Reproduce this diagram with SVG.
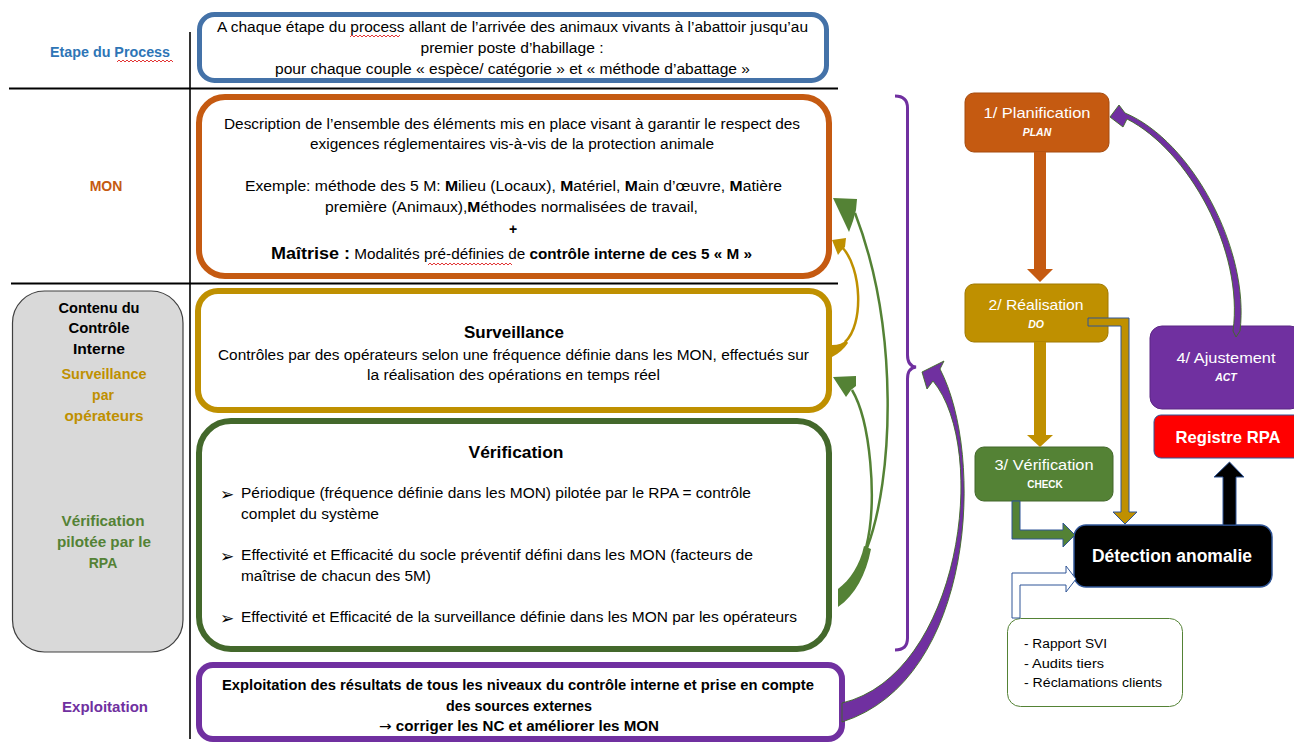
<svg xmlns="http://www.w3.org/2000/svg" width="1294" height="744" viewBox="0 0 1294 744">
<style>
text{font-family:"Liberation Sans",Arial,sans-serif;font-size:14px;fill:#000}
.c{text-anchor:middle}
.b{font-weight:bold}
.lbl{font-weight:bold;font-size:14px;text-anchor:middle}
.ttl{font-weight:bold;font-size:16.5px;text-anchor:middle}
.w{fill:#fff}
.bul{font-family:"DejaVu Sans",sans-serif;font-size:17px}
.sq{fill:none;stroke:#e02020;stroke-width:0.9}
</style>
<rect width="1294" height="744" fill="#fff"/>

<g id="grid">
<line x1="190" y1="32" x2="190" y2="739" stroke="#000" stroke-width="1.6"/>
<line x1="9" y1="88.5" x2="838" y2="88.5" stroke="#000" stroke-width="2.2"/>
<line x1="11" y1="283.5" x2="838" y2="283.5" stroke="#000" stroke-width="2.2"/>
</g>

<g id="labels">
<text class="lbl" x="110" y="57" style="fill:#2E75B6" textLength="120" lengthAdjust="spacingAndGlyphs">Etape du Process</text>
<polyline class="sq" points="117,62 119,60 121,62 123,60 125,62 127,60 129,62 131,60 133,62 135,60 137,62 139,60 141,62 143,60 145,62 147,60 149,62 151,60 153,62 155,60 157,62 159,60 161,62 163,60 165,62 167,60 169,62 171,60 173,62"/>
<text class="lbl" x="106" y="191" style="fill:#C55A11">MON</text>
<text class="lbl" x="105" y="712" style="fill:#7030A0" textLength="86" lengthAdjust="spacingAndGlyphs">Exploitation</text>
</g>

<g id="contenu">
<rect x="12.5" y="291" width="170.5" height="361" rx="32" fill="#D9D9D9" stroke="#404040" stroke-width="1.2"/>
<text class="lbl" x="99" y="313" textLength="81" lengthAdjust="spacingAndGlyphs">Contenu du</text>
<text class="lbl" x="99" y="333" textLength="61" lengthAdjust="spacingAndGlyphs">Contrôle</text>
<text class="lbl" x="99" y="354" textLength="52" lengthAdjust="spacingAndGlyphs">Interne</text>
<text class="lbl" x="104" y="379" style="fill:#BF9000" textLength="85" lengthAdjust="spacingAndGlyphs">Surveillance</text>
<text class="lbl" x="103" y="400" style="fill:#BF9000">par</text>
<text class="lbl" x="104" y="421" style="fill:#BF9000" textLength="79" lengthAdjust="spacingAndGlyphs">opérateurs</text>
<text class="lbl" x="103" y="526" style="fill:#548235" textLength="83" lengthAdjust="spacingAndGlyphs">Vérification</text>
<text class="lbl" x="104" y="547" style="fill:#548235" textLength="94" lengthAdjust="spacingAndGlyphs">pilotée par le</text>
<text class="lbl" x="103" y="568" style="fill:#548235">RPA</text>
</g>

<g id="etape">
<rect x="199.5" y="14.5" width="627" height="66" rx="15" fill="#fff" stroke="#4472A8" stroke-width="5"/>
<text class="c" x="512.5" y="32" textLength="591" lengthAdjust="spacingAndGlyphs">A chaque étape du process allant de l’arrivée des animaux vivants à l’abattoir jusqu’au</text>
<polyline class="sq" points="350,37 352,35 354,37 356,35 358,37 360,35 362,37 364,35 366,37 368,35 370,37 372,35 374,37 376,35 378,37 380,35 382,37 384,35 386,37 388,35 390,37 392,35 394,37 396,35 398,37 400,35"/>
<text class="c" x="512" y="53" textLength="183" lengthAdjust="spacingAndGlyphs">premier poste d’habillage :</text>
<text class="c" x="512.5" y="74" textLength="475" lengthAdjust="spacingAndGlyphs">pour chaque couple « espèce/ catégorie » et « méthode d’abattage »</text>
</g>

<g id="mon">
<rect x="199" y="97" width="630" height="179" rx="26" fill="#fff" stroke="#C55A11" stroke-width="6"/>
<text class="c" x="512" y="129" textLength="576" lengthAdjust="spacingAndGlyphs">Description de l’ensemble des éléments mis en place visant à garantir le respect des</text>
<text class="c" x="512" y="149" textLength="404" lengthAdjust="spacingAndGlyphs">exigences réglementaires vis-à-vis de la protection animale</text>
<text class="c" x="513.5" y="191" textLength="537" lengthAdjust="spacingAndGlyphs">Exemple: méthode des 5 M: <tspan class="b">M</tspan>ilieu (Locaux), <tspan class="b">M</tspan>atériel, <tspan class="b">M</tspan>ain d’œuvre, <tspan class="b">M</tspan>atière</text>
<text class="c" x="511.5" y="212" textLength="373" lengthAdjust="spacingAndGlyphs">première (Animaux),<tspan class="b">M</tspan>éthodes normalisées de travail,</text>
<text class="c b" x="513" y="234">+</text>
<text class="c" x="511.5" y="259" textLength="481" lengthAdjust="spacingAndGlyphs"><tspan class="b" style="font-size:16.5px">Maîtrise :</tspan> Modalités pré-définies de <tspan class="b">contrôle interne de ces 5 « M »</tspan></text>
<polyline class="sq" points="428,265 430,263 432,265 434,263 436,265 438,263 440,265 442,263 444,265 446,263 448,265 450,263 452,265 454,263 456,265 458,263 460,265 462,263 464,265 466,263 468,265 470,263 472,265 474,263 476,265 478,263 480,265 482,263 484,265 486,263 488,265 490,263 492,265 494,263 496,265 498,263 500,265 502,263 504,265 506,263 508,265 510,263 512,265"/>
</g>

<g id="surveillance">
<rect x="198" y="291" width="631" height="119" rx="20" fill="#fff" stroke="#BF9000" stroke-width="6"/>
<text class="ttl" x="514" y="338" textLength="100" lengthAdjust="spacingAndGlyphs">Surveillance</text>
<text class="c" x="513.5" y="360" textLength="591" lengthAdjust="spacingAndGlyphs">Contrôles par des opérateurs selon une fréquence définie dans les MON, effectués sur</text>
<text class="c" x="513.5" y="380" textLength="293" lengthAdjust="spacingAndGlyphs">la réalisation des opérations en temps réel</text>
</g>

<g id="verification">
<rect x="199" y="421" width="630" height="228" rx="32" fill="#fff" stroke="#43682B" stroke-width="6"/>
<text class="ttl" x="516" y="458" textLength="95" lengthAdjust="spacingAndGlyphs">Vérification</text>
<text class="bul" x="220" y="500">➢</text>
<text x="241" y="498" textLength="510" lengthAdjust="spacingAndGlyphs">Périodique (fréquence définie dans les MON) pilotée par le RPA = contrôle</text>
<text x="241" y="519" textLength="138" lengthAdjust="spacingAndGlyphs">complet du système</text>
<text class="bul" x="220" y="562">➢</text>
<text x="241" y="560" textLength="512" lengthAdjust="spacingAndGlyphs">Effectivité et Efficacité du socle préventif  défini dans les MON (facteurs de</text>
<text x="241" y="581" textLength="190" lengthAdjust="spacingAndGlyphs">maîtrise de chacun des 5M)</text>
<text class="bul" x="220" y="624">➢</text>
<text x="241" y="622" textLength="556" lengthAdjust="spacingAndGlyphs">Effectivité et Efficacité de la surveillance définie dans les MON par les opérateurs</text>
</g>

<g id="exploitation">
<rect x="199" y="665" width="643" height="74" rx="14" fill="#fff" stroke="#7030A0" stroke-width="6"/>
<text class="c b" x="518" y="690" textLength="592" lengthAdjust="spacingAndGlyphs">Exploitation des résultats de tous les niveaux du contrôle interne et prise en compte</text>
<text class="c b" x="519" y="711" textLength="146" lengthAdjust="spacingAndGlyphs">des sources externes</text>
<text class="c b" x="519" y="731" textLength="280" lengthAdjust="spacingAndGlyphs"><tspan style="font-family:'DejaVu Sans',sans-serif;font-weight:normal">→</tspan> corriger les NC et  améliorer les MON</text>
</g>

<g id="brace">
<path d="M895,96 Q907.5,96 907.5,108 L907.5,355 Q907.5,366 916,367 Q907.5,368 907.5,379 L907.5,638 Q907.5,650 895,650" fill="none" stroke="#7030A0" stroke-width="3"/>
</g>

<g id="plan">
<rect x="965" y="93" width="144" height="59" rx="9" fill="#C55A11" stroke="#A54B0E"/>
<text class="c w" x="1037" y="118" style="font-size:15px" textLength="107" lengthAdjust="spacingAndGlyphs">1/ Planification</text>
<text class="c w b" x="1037" y="136" style="font-size:10.5px;font-style:italic">PLAN</text>
</g>
<g id="do">
<rect x="965" y="284" width="143" height="58" rx="9" fill="#BF9000" stroke="#A07900"/>
<text class="c w" x="1036" y="310" style="font-size:15px" textLength="95" lengthAdjust="spacingAndGlyphs">2/ Réalisation</text>
<text class="c w b" x="1036" y="328" style="font-size:10.5px;font-style:italic">DO</text>
</g>
<g id="check">
<rect x="975" y="447" width="138" height="54" rx="9" fill="#548235" stroke="#42672A"/>
<text class="c w" x="1044" y="470" style="font-size:15px" textLength="99" lengthAdjust="spacingAndGlyphs">3/ Vérification</text>
<text class="c w b" x="1045" y="488" style="font-size:10px">CHECK</text>
</g>
<g id="act">
<rect x="1150" y="326" width="152" height="83" rx="12" fill="#7030A0" stroke="#5B2784"/>
<text class="c w" x="1226" y="363" style="font-size:15px" textLength="99" lengthAdjust="spacingAndGlyphs">4/ Ajustement</text>
<text class="c w b" x="1226" y="381" style="font-size:10.5px;font-style:italic">ACT</text>
</g>
<g id="registre">
<rect x="1154" y="415" width="150" height="43" rx="7" fill="#FF0000" stroke="#2F5597"/>
<text class="c w b" x="1228" y="443" style="font-size:17px" textLength="105" lengthAdjust="spacingAndGlyphs">Registre RPA</text>
</g>
<g id="detection">
<rect x="1074" y="525" width="198" height="62" rx="12" fill="#000" stroke="#2F5597" stroke-width="1.5"/>
<text class="c w b" x="1172" y="562" style="font-size:18px" textLength="160" lengthAdjust="spacingAndGlyphs">Détection anomalie</text>
</g>
<g id="sources">
<rect x="1007.5" y="618.5" width="175" height="88" rx="13" fill="#fff" stroke="#548235"/>
<text x="1024" y="648" style="font-size:12.5px" textLength="83" lengthAdjust="spacingAndGlyphs">- Rapport SVI</text>
<text x="1024" y="668" style="font-size:12.5px" textLength="80" lengthAdjust="spacingAndGlyphs">- Audits tiers</text>
<text x="1024" y="687" style="font-size:12.5px" textLength="138" lengthAdjust="spacingAndGlyphs">- Réclamations clients</text>
</g>

<g id="connectors">
<polygon points="1034,152 1046,152 1046,269 1053,269 1040,282 1027,269 1034,269" fill="#C55A11"/>
<polygon points="1034,342 1046,342 1046,435 1053,435 1040,447 1027,435 1034,435" fill="#BF9000"/>
<polygon points="1088,318 1129,318 1129,512 1137,512 1125,524 1113,512 1121,512 1121,326 1088,326" fill="#BF9000" stroke="#2F5597" stroke-width="1"/>
<polygon points="1012,501 1020,501 1020,530 1063,530 1063,523 1075,535 1063,547 1063,539 1012,539" fill="#548235" stroke="#2F5597" stroke-width="1"/>
<polygon points="1012,618 1012,573 1066,573 1066,566 1076,579 1066,592 1066,585 1020,585 1020,618" fill="#fff" stroke="#2F5597" stroke-width="1"/>
<polygon points="1223,525 1236,525 1236,477 1244,477 1229.5,462 1214,477 1223,477" fill="#000" stroke="#2F5597" stroke-width="1"/>
<path d="M1233,331 C1244,250 1188,150 1127,119 L1123,127 L1110,117 L1119,105 L1125,113 C1192,141 1250,250 1240,331 L1236,337 Z" fill="#7030A0" stroke="#3E6B26" stroke-width="0.9"/>
<path d="M842,703 C960,675 990,450 933,381 L927,389 L922,372 L944,361 L940,369 C985,455 975,680 842,722 Z" fill="#7030A0" stroke="#3E6B26" stroke-width="0.9"/>
<path d="M838,589 C850,580 860,565 864,546 L871,549 C866,575 855,595 838,607 Z" fill="#548235"/>
<path d="M855,213 C900,330 893,480 867,548" fill="none" stroke="#548235" stroke-width="2.5"/>
<polygon points="833,198 857,199 856,210 853,221 849,232" fill="#548235"/>
<path d="M852,390 C870,420 878,500 866,548" fill="none" stroke="#548235" stroke-width="2.5"/>
<polygon points="833,377 856,376 856,386 851,390 846,397" fill="#548235"/>
<path d="M832,345 Q842,345 846,340 L848,343 Q842,352 832,357 Z" fill="#BF9000"/>
<path d="M845,342 C864,325 862,268 842,247" fill="none" stroke="#BF9000" stroke-width="2.5"/>
<polygon points="832,240 846,238 845,247 841,251 838,255" fill="#BF9000"/>
</g>
</svg>
